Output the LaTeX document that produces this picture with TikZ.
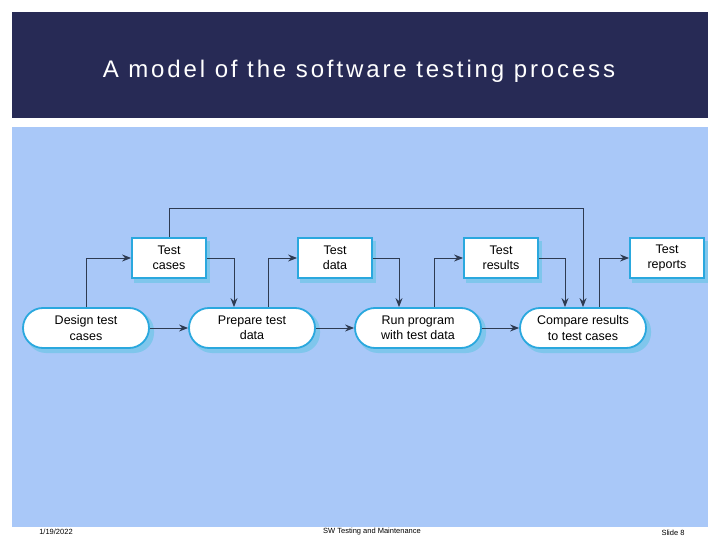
\documentclass[tikz,border=0pt]{standalone}
\usepackage{fontspec}
\setmainfont{Liberation Sans}
\usetikzlibrary{arrows.meta}
\definecolor{navy}{HTML}{272A55}
\definecolor{panel}{HTML}{A9C8F8}
\definecolor{cyanb}{HTML}{2AA8DE}
\definecolor{shad}{HTML}{7FC6EC}
\definecolor{arr}{HTML}{2E3B52}
\tikzset{
 databox/.style={draw=cyanb,line width=1.8pt,fill=white,minimum width=74pt,minimum height=40pt,align=center,font=\fontsize{12.5}{15.5}\selectfont,inner sep=1pt},
 procbox/.style={draw=cyanb,line width=1.8pt,fill=white,rounded corners=20pt,minimum width=126pt,minimum height=40pt,align=center,font=\fontsize{12.5}{15.5}\selectfont,inner sep=1pt},
 conn/.style={draw=arr,line width=1pt,-{Stealth[length=9pt,width=7pt]}},
 foot/.style={font=\fontsize{7.5}{9}\selectfont}
}
\begin{document}
\begin{tikzpicture}[x=1pt,y=-1pt]
\useasboundingbox (0,0) rectangle (720,540);
\fill[white] (0,0) rectangle (720,540);
\fill[navy] (12,12) rectangle (708,118);
\node[text=white,font=\fontsize{24}{28}\selectfont\addfontfeature{LetterSpace=12}] (title) at (359,71) {A model of the software testing process};
\fill[panel] (12,127) rectangle (708,527);
\foreach \x in {169,335,501,667} \fill[shad] (\x-35,241) rectangle (\x+41,283);
\foreach \x in {86,252,418,583} \fill[shad,rounded corners=20pt] (\x-60,311) rectangle (\x+68,353);
\node[databox] (tc) at (169,258) {Test\\cases};
\node[databox] (td) at (335,258) {Test\\data};
\node[databox] (tr) at (501,258) {Test\\results};
\node[databox] (rep) at (667,258) {Test\\reports};
\node[procbox] (des) at (86,328) {Design test\\cases};
\node[procbox] (prep) at (252,328) {Prepare test\\data};
\node[procbox] (run) at (418,328) {Run program\\with test data};
\node[procbox] (cmp) at (583,328) {Compare results\\to test cases};
\draw[conn] (des.north) |- (tc.west);
\draw[conn] (prep.north) ++(16,0) |- (td.west);
\draw[conn] (run.north) ++(16,0) |- (tr.west);
\draw[conn] (cmp.north) ++(16,0) |- (rep.west);
\draw[conn] (tc.east) -| ([xshift=-18pt]prep.north);
\draw[conn] (td.east) -| ([xshift=-19pt]run.north);
\draw[conn] (tr.east) -| ([xshift=-18pt]cmp.north);
\draw[conn] (tc.north) |- (583,209) -- (cmp.north);
\draw[conn] (des.east) -- (prep.west);
\draw[conn] (prep.east) -- (run.west);
\draw[conn] (run.east) -- (cmp.west);
\node[foot] (date) at (56,532) {1/19/2022};
\node[foot] (ft) at (372,532) {SW Testing and Maintenance};
\node[foot] (sl) at (673,533) {Slide 8};
\end{tikzpicture}
\end{document}
